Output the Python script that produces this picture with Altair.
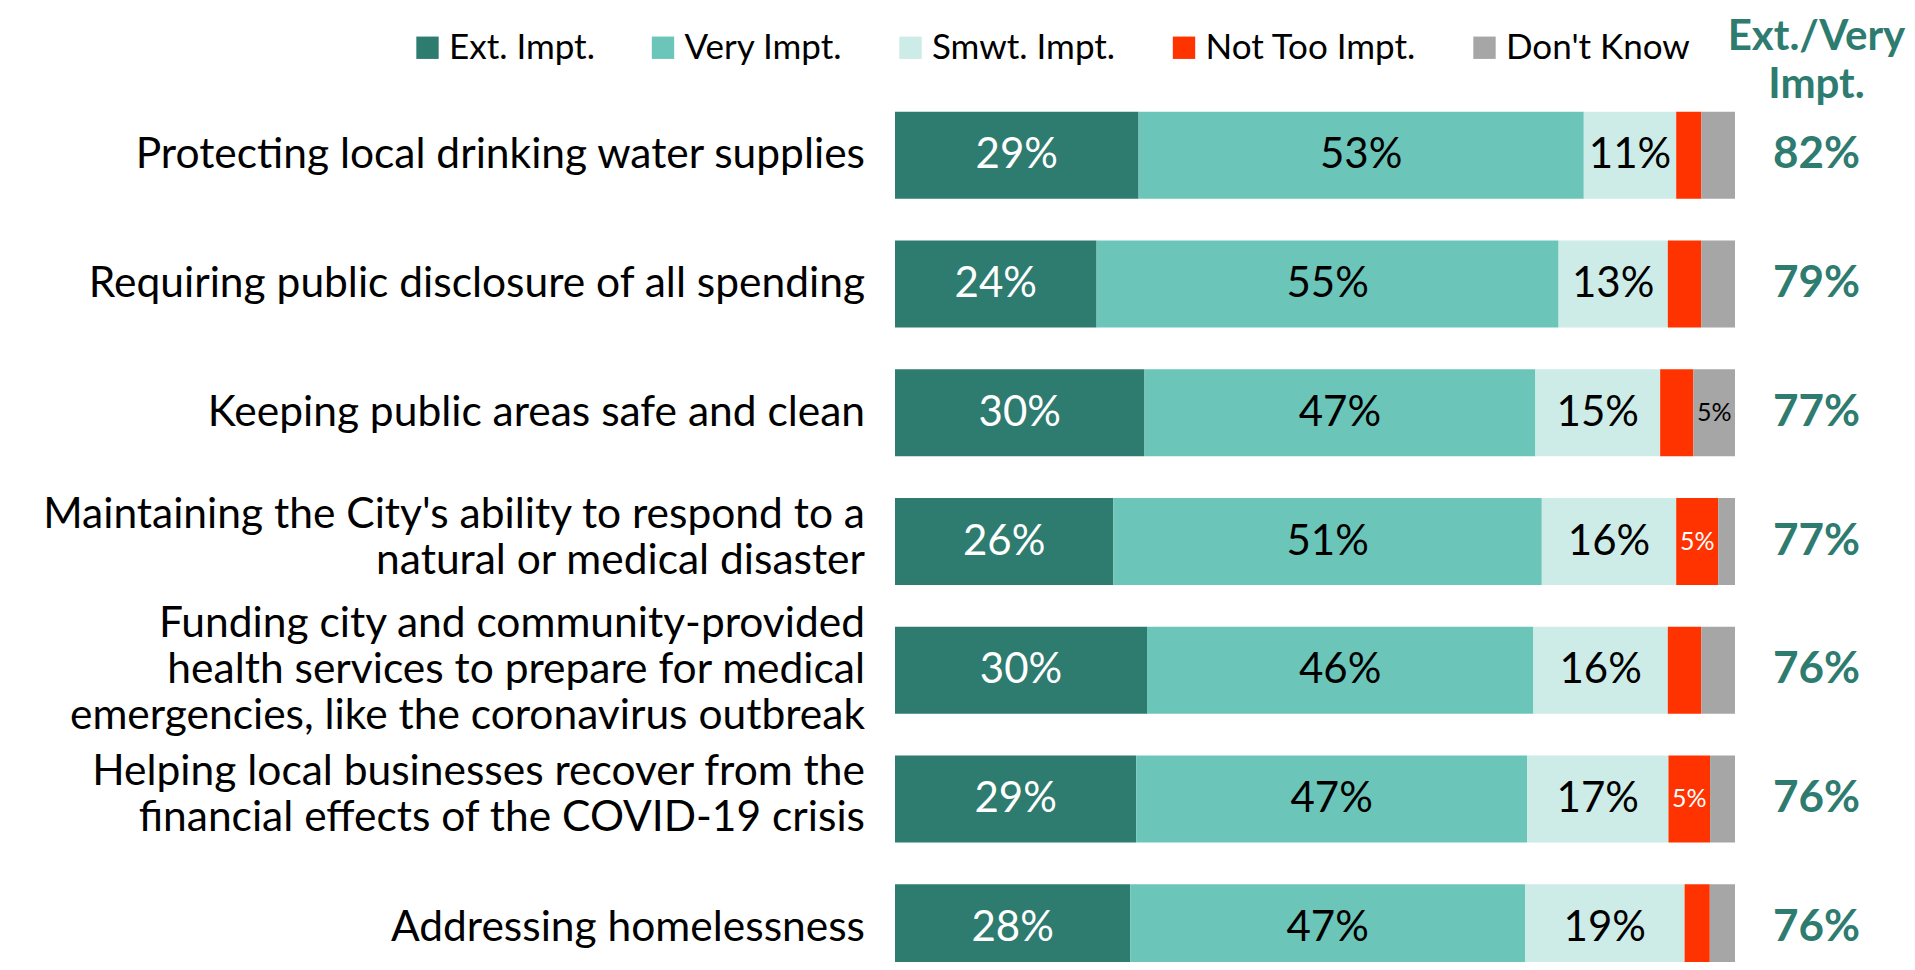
import altair as alt
import pandas as pd

categories = [
    "Protecting local drinking water supplies",
    "Requiring public disclosure of all spending",
    "Keeping public areas safe and clean",
    "Maintaining the City's ability to respond to a|natural or medical disaster",
    "Funding city and community-provided|health services to prepare for medical|emergencies, like the coronavirus outbreak",
    "Helping local businesses recover from the|financial effects of the COVID-19 crisis",
    "Addressing homelessness",
]
ext = [29, 24, 30, 26, 30, 29, 28]
very = [53, 55, 47, 51, 46, 47, 47]
smwt = [11, 13, 15, 16, 16, 17, 19]
not_too = [3, 4, 4, 5, 4, 5, 3]
dont_know = [4, 4, 5, 2, 4, 3, 3]
ext_very = [82, 79, 77, 77, 76, 76, 76]
series = ["Ext. Impt.", "Very Impt.", "Smwt. Impt.", "Not Too Impt.", "Don't Know"]
colors = ["#2E7B6F", "#6BC6B9", "#CDECE7", "#FF3300", "#A6A6A6"]
label_colors = ["white", "black", "black", "white", "black"]
header = ["Ext./Very", "Impt."]

FONT = "Lato"
TEAL = "#2E7B6F"
LINE_H = 46

rows = []
for i, cat in enumerate(categories):
    vals = [ext[i], very[i], smwt[i], not_too[i], dont_know[i]]
    tot = sum(vals)
    cum = 0.0
    for j, s in enumerate(series):
        start = cum / tot
        cum += vals[j]
        end = cum / tot
        rows.append({
            "cat": cat, "series": s, "order": j, "value": vals[j],
            "start": start, "end": end, "mid": (start + end) / 2,
            "label": f"{vals[j]}%", "tcolor": label_colors[j],
        })
df = pd.DataFrame(rows)
tot_df = pd.DataFrame({
    "cat": categories,
    "tot": [f"{v}%" for v in ext_very],
    "nlines": [c.count("|") + 1 for c in categories],
})
head_df = pd.DataFrame({"h": [header]})

xscale = alt.Scale(domain=[0, 1012 / 840], nice=False, zero=True)
yscale = alt.Scale(domain=categories, range=[0, 901], paddingInner=0.324, paddingOuter=0.162)
ycat = alt.Y("cat:N", scale=yscale, sort=categories, axis=None)

base = alt.Chart(df)

bars = base.mark_bar().encode(
    x=alt.X("start:Q", scale=xscale, axis=None),
    x2="end:Q",
    y=ycat,
    color=alt.Color("series:N", scale=alt.Scale(domain=series, range=colors),
                    legend=alt.Legend(orient="none", direction="horizontal", columns=5,
                                      title=None, legendX=-485, legendY=-61,
                                      symbolType="square", symbolSize=500,
                                      symbolStrokeWidth=0, symbolOpacity=1,
                                      labelFont=FONT, labelFontSize=35,
                                      labelColor="black", labelOffset=4,
                                      columnPadding=50.5, labelLimit=400)),
    order=alt.Order("order:Q"),
)

big = base.transform_filter("datum.value >= 10").mark_text(
    font=FONT, fontSize=42, align="center", baseline="middle"
).encode(
    x=alt.X("mid:Q", scale=xscale),
    y=ycat,
    text="label:N",
    fill=alt.Fill("tcolor:N", scale=None),
)

small = base.transform_filter("datum.value >= 5 && datum.value < 10").mark_text(
    font=FONT, fontSize=25, align="center", baseline="middle"
).encode(
    x=alt.X("mid:Q", scale=xscale),
    y=ycat,
    text="label:N",
    fill=alt.Fill("tcolor:N", scale=None),
)

# category labels (multi-line, vertically centred on each bar)
cat_layers = []
for n in sorted(set(tot_df["nlines"])):
    shift = -4 if n == 2 else 0
    cat_layers.append(
        alt.Chart(tot_df).transform_filter(f"datum.nlines == {n}").mark_text(
            font=FONT, fontSize=42.5, align="right", baseline="middle",
            lineBreak="|", lineHeight=LINE_H, color="black",
            dy=-(n - 1) * LINE_H / 2 + shift,
        ).encode(
            x=alt.value(-30),
            y=ycat,
            text="cat:N",
        )
    )

totals = alt.Chart(tot_df).mark_text(
    font=FONT, fontSize=44, fontWeight="bold", color=TEAL, align="center", baseline="middle"
).encode(
    x=alt.datum(1.097, scale=xscale),
    y=ycat,
    text="tot:N",
)

head = alt.Chart(head_df).mark_text(
    font=FONT, fontSize=42, fontWeight="bold", color=TEAL, align="center",
    baseline="middle", lineHeight=48
).encode(
    x=alt.datum(1.097, scale=xscale),
    y=alt.value(-54),
    text="h",
)

chart = alt.layer(bars, big, small, *cat_layers, totals, head).properties(
    width=1012, height=871,
    autosize=alt.AutoSizeParams(type="none"),
    padding={"left": 887, "top": 83, "right": 0, "bottom": 0},
).configure_view(stroke=None)

chart.save("out.html", embed_options={"renderer": "svg", "actions": False})
